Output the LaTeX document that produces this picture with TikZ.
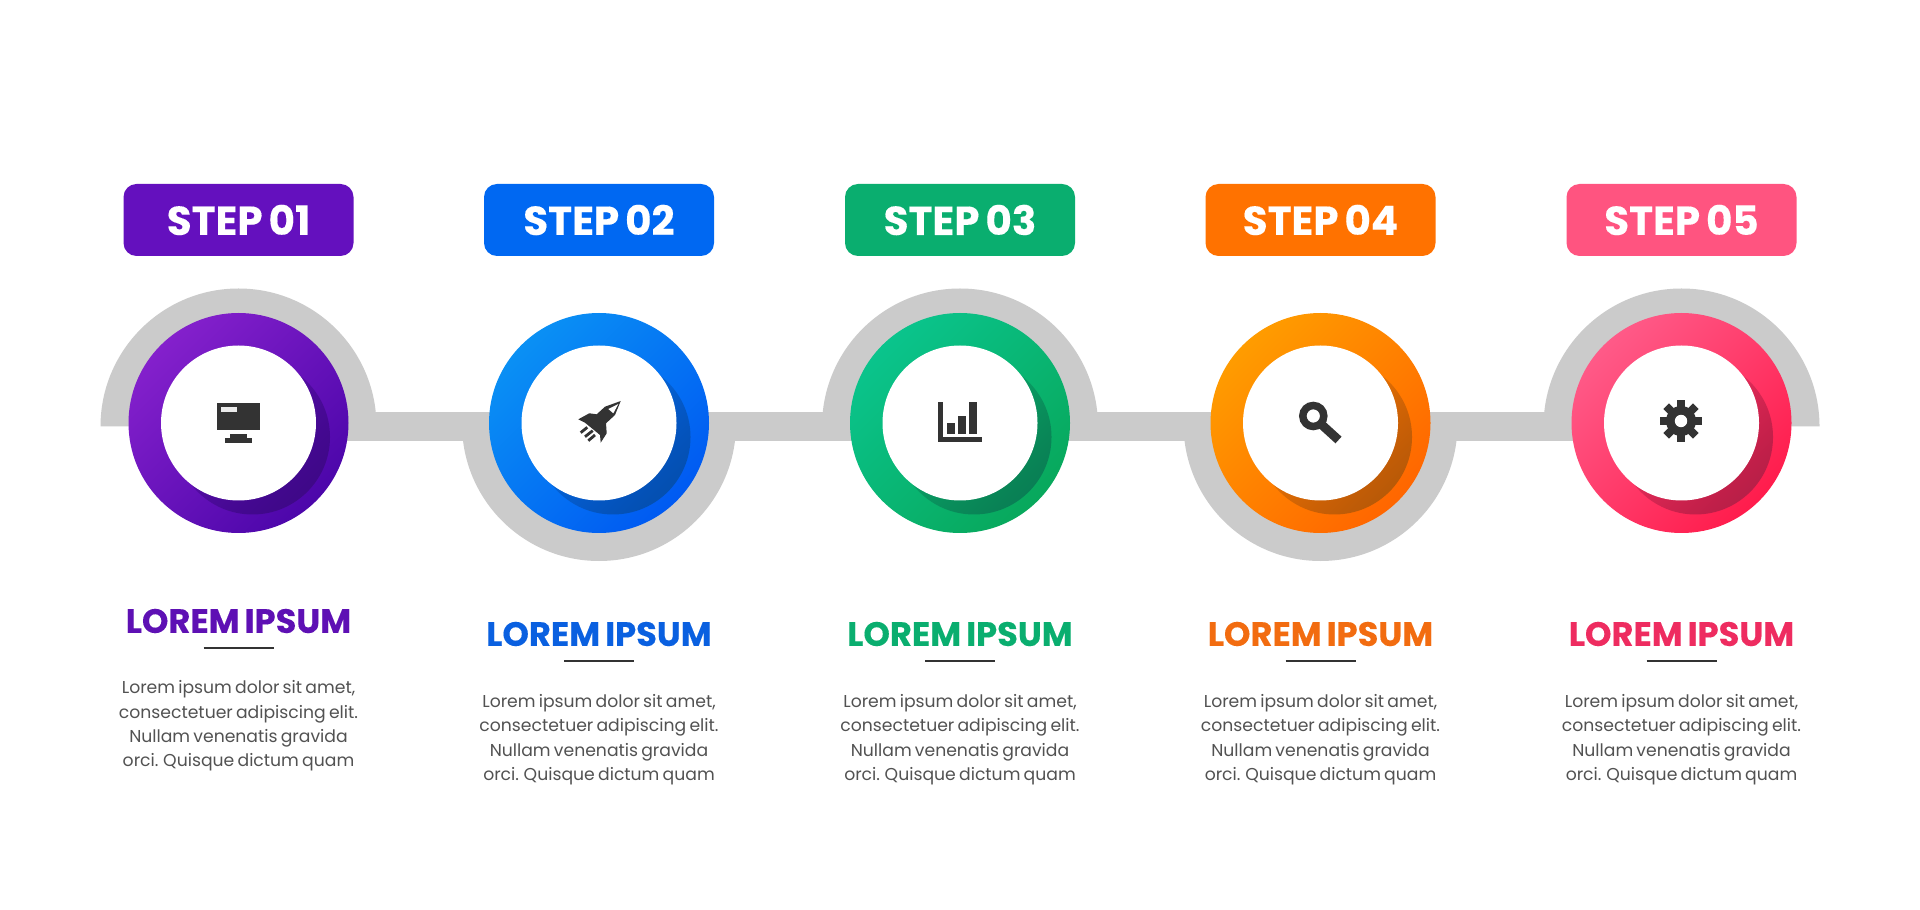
\documentclass[tikz,border=0pt]{standalone}
\usepackage{fontspec}
\setmainfont[WordSpace=.7,BoldFeatures={FakeBold=.25}]{Poppins}
\usetikzlibrary{fadings}
\definecolor{boxa}{HTML}{6410BE}
\definecolor{boxb}{HTML}{0068F2}
\definecolor{boxc}{HTML}{0AAE6F}
\definecolor{boxd}{HTML}{FF7200}
\definecolor{boxe}{HTML}{FF5480}
\definecolor{lighta}{HTML}{8420CC}
\definecolor{lightb}{HTML}{0A90F4}
\definecolor{lightc}{HTML}{0AC48C}
\definecolor{lightd}{HTML}{FF9C00}
\definecolor{lighte}{HTML}{FF5A88}
\definecolor{basea}{HTML}{4C06AA}
\definecolor{baseb}{HTML}{005AF2}
\definecolor{basec}{HTML}{08A85C}
\definecolor{based}{HTML}{FF6600}
\definecolor{basee}{HTML}{FF1C4C}
\definecolor{darka}{HTML}{3F0888}
\definecolor{darkb}{HTML}{0550B0}
\definecolor{darkc}{HTML}{0A7F55}
\definecolor{darkd}{HTML}{B85A08}
\definecolor{darke}{HTML}{B81F48}
\definecolor{heada}{HTML}{5E10B4}
\definecolor{headb}{HTML}{0A60E0}
\definecolor{headc}{HTML}{0AAE6F}
\definecolor{headd}{HTML}{F26C10}
\definecolor{heade}{HTML}{EE2C60}
\definecolor{greyband}{HTML}{CBCBCB}
\definecolor{icon}{HTML}{333333}
\tikzfading[name=shadefade,top color=transparent!100,middle color=transparent!100,bottom color=transparent!0]

\begin{document}
\begin{tikzpicture}
[stepbox/.style={rectangle,rounded corners=.13cm,minimum width=2.3cm,minimum height=.72cm,inner sep=0pt,text=white,font=\fontsize{11.5}{14}\selectfont\bfseries},
ringdisc/.style 2 args={circle,inner sep=0pt,minimum size=2.2cm,top color=#1,bottom color=#2,shading angle=45},
holeshade/.style={circle,inner sep=0pt,minimum size=1.55cm,path fading=shadefade,fading angle=45},
hole/.style={circle,fill=white,inner sep=0pt,minimum size=1.55cm},
head/.style={inner sep=0pt,font=\fontsize{9.6}{12}\selectfont\bfseries},
rule/.style={draw=icon,line width=.025cm},
body/.style={inner sep=0pt,align=center,text=black!68,font=\fontsize{4.9}{6.95}\selectfont}]
\useasboundingbox (0,0) rectangle (19.2,9.09);
\fill[white] (0,0) rectangle (19.2,9.09);
% grey track
\coordinate (g1) at (2.385,4.825);
\coordinate (g2) at (5.99,4.825);
\coordinate (g3) at (9.6,4.825);
\coordinate (g4) at (13.205,4.825);
\coordinate (g5) at (16.815,4.825);
\fill[greyband] (g1) ++(-1.38,0) arc (180:0:1.38) -- cycle;
\fill[greyband] (g2) ++(-1.37,.025) arc (180:360:1.37) -- cycle;
\fill[greyband] (g3) ++(-1.38,0) arc (180:0:1.38) -- cycle;
\fill[greyband] (g4) ++(-1.37,.025) arc (180:360:1.37) -- cycle;
\fill[greyband] (g5) ++(-1.38,0) arc (180:0:1.38) -- cycle;
\draw[greyband,line width=.29cm] (g1) -- (g2);
\draw[greyband,line width=.29cm] (g2) -- (g3);
\draw[greyband,line width=.29cm] (g3) -- (g4);
\draw[greyband,line width=.29cm] (g4) -- (g5);
% step labels
\node[stepbox,fill=boxa] at (2.385,6.89) (b1) {STEP 01};
\node[stepbox,fill=boxb] at (5.99,6.89) (b2) {STEP 02};
\node[stepbox,fill=boxc] at (9.6,6.89) (b3) {STEP 03};
\node[stepbox,fill=boxd] at (13.205,6.89) (b4) {STEP 04};
\node[stepbox,fill=boxe] at (16.815,6.89) (b5) {STEP 05};
% rings
\node[ringdisc={lighta}{basea}] at (2.385,4.86) (r1) {};
\node[ringdisc={lightb}{baseb}] at (5.99,4.86) (r2) {};
\node[ringdisc={lightc}{basec}] at (9.6,4.86) (r3) {};
\node[ringdisc={lightd}{based}] at (13.205,4.86) (r4) {};
\node[ringdisc={lighte}{basee}] at (16.815,4.86) (r5) {};
\node[holeshade,fill=darka] at (2.525,4.72) (s1) {};
\node[holeshade,fill=darkb] at (6.13,4.72) (s2) {};
\node[holeshade,fill=darkc] at (9.74,4.72) (s3) {};
\node[holeshade,fill=darkd] at (13.345,4.72) (s4) {};
\node[holeshade,fill=darke] at (16.955,4.72) (s5) {};
\node[hole] at (r1) (h1) {};
\node[hole] at (r2) (h2) {};
\node[hole] at (r3) (h3) {};
\node[hole] at (r4) (h4) {};
\node[hole] at (r5) (h5) {};
% icons
\fill[icon] (2.17,5.055) rectangle (2.60,4.79);
\fill[white!92!black] (2.21,5.02) rectangle (2.37,4.97);
\fill[icon] (2.30,4.745) rectangle (2.465,4.70);
\fill[icon] (2.25,4.705) rectangle (2.52,4.66);
\fill[icon] (6.207,5.08) -- (6.05,5.023) -- (5.967,4.947) -- (5.893,4.957) -- (5.783,4.897) -- (5.85,4.863) -- (6.00,4.74) -- (6.007,4.663) -- (6.067,4.757) -- (6.06,4.857) -- (6.15,4.94) -- cycle;
\fill[white] (6.183,5.05) -- (6.083,5.00) -- (6.133,4.957) -- cycle;
\draw[icon,line width=.028cm] (5.807,4.763) -- (5.873,4.817);
\draw[icon,line width=.028cm] (5.85,4.723) -- (5.927,4.783);
\draw[icon,line width=.028cm] (5.883,4.683) -- (5.95,4.74);
\fill[icon] (9.383,5.067) rectangle (9.433,4.667);
\fill[icon] (9.383,4.717) rectangle (9.817,4.667);
\fill[icon] (9.473,4.857) rectangle (9.55,4.75);
\fill[icon] (9.583,4.933) rectangle (9.657,4.75);
\fill[icon] (9.69,5.067) rectangle (9.767,4.75);
\draw[icon,line width=.075cm] (13.133,4.93) circle (.105);
\draw[icon,line width=.09cm] (13.22,4.84) -- (13.385,4.69);
\draw[icon,line width=.08cm] (16.60,4.88) -- (17.02,4.88);
\draw[icon,line width=.08cm] (16.81,4.67) -- (16.81,5.09);
\draw[icon,line width=.08cm] (16.6615,4.7315) -- (16.9585,5.0285);
\draw[icon,line width=.08cm] (16.6615,5.0285) -- (16.9585,4.7315);
\fill[icon] (16.81,4.88) circle (.15);
\fill[white] (16.81,4.88) circle (.062);
% headings
\node[head,text=heada] at (2.385,2.88) (t1) {LOREM IPSUM};
\node[head,text=headb] at (5.99,2.75) (t2) {LOREM IPSUM};
\node[head,text=headc] at (9.6,2.75) (t3) {LOREM IPSUM};
\node[head,text=headd] at (13.205,2.75) (t4) {LOREM IPSUM};
\node[head,text=heade] at (16.815,2.75) (t5) {LOREM IPSUM};
\coordinate (a1) at (2.035,2.61);
\coordinate (c1) at (2.735,2.61);
\coordinate (a2) at (5.64,2.48);
\coordinate (c2) at (6.34,2.48);
\coordinate (a3) at (9.25,2.48);
\coordinate (c3) at (9.95,2.48);
\coordinate (a4) at (12.855,2.48);
\coordinate (c4) at (13.555,2.48);
\coordinate (a5) at (16.465,2.48);
\coordinate (c5) at (17.165,2.48);
\draw[rule] (a1) -- (c1);
\draw[rule] (a2) -- (c2);
\draw[rule] (a3) -- (c3);
\draw[rule] (a4) -- (c4);
\draw[rule] (a5) -- (c5);
% texts
\node[body] at (2.385,1.83) (d1) {Lorem ipsum dolor sit amet,\\consectetuer adipiscing elit.\\Nullam venenatis gravida\\orci. Quisque dictum quam};
\node[body] at (5.99,1.695) (d2) {Lorem ipsum dolor sit amet,\\consectetuer adipiscing elit.\\Nullam venenatis gravida\\orci. Quisque dictum quam};
\node[body] at (9.6,1.695) (d3) {Lorem ipsum dolor sit amet,\\consectetuer adipiscing elit.\\Nullam venenatis gravida\\orci. Quisque dictum quam};
\node[body] at (13.205,1.695) (d4) {Lorem ipsum dolor sit amet,\\consectetuer adipiscing elit.\\Nullam venenatis gravida\\orci. Quisque dictum quam};
\node[body] at (16.815,1.695) (d5) {Lorem ipsum dolor sit amet,\\consectetuer adipiscing elit.\\Nullam venenatis gravida\\orci. Quisque dictum quam};
\end{tikzpicture}
\end{document}
